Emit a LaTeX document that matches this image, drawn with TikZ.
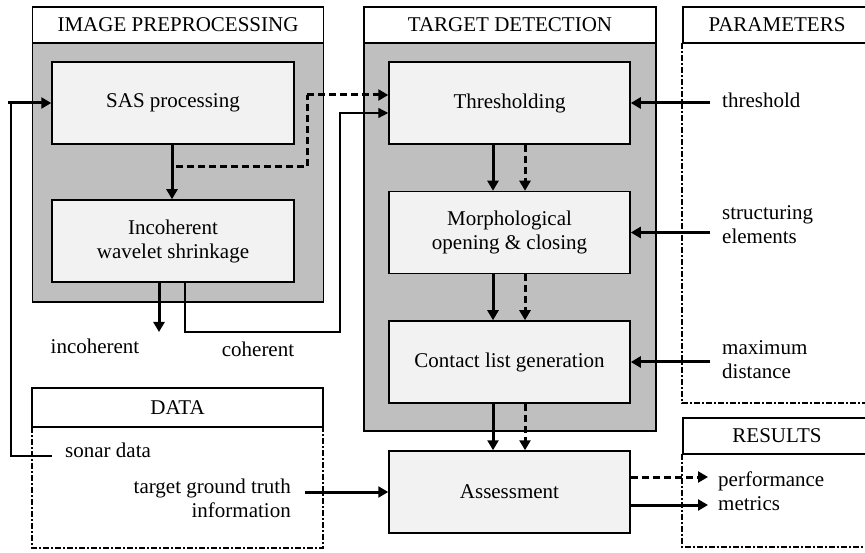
\documentclass[tikz,border=0pt]{standalone}
\usepackage{fontspec}
\setmainfont{Liberation Serif}
\usetikzlibrary{arrows.meta}
\definecolor{groupgray}{HTML}{BFBFBF}
\definecolor{boxgray}{HTML}{F2F2F2}
\newcommand{\dfs}{\fontsize{21}{24}\selectfont}
\begin{document}
\begin{tikzpicture}[x=1pt,y=-1pt,
  grp/.style={draw, line width=1.5pt, fill=groupgray, inner sep=0pt},
  hdr/.style={draw, line width=1.5pt, fill=white, inner sep=0pt, font=\dfs},
  proc/.style={draw, line width=1.5pt, fill=boxgray, minimum width=241pt, minimum height=82pt, inner sep=0pt, align=center, font=\dfs},
  lbl/.style={inner sep=0pt, font=\dfs, align=left},
  thk/.style={line width=3pt, -{Triangle[length=10pt,width=11pt]}},
  dsh/.style={thk, dash pattern=on 7pt off 4pt},
  thinln/.style={line width=1.2pt},
  dd/.style={line width=2.4pt, dash pattern=on 6pt off 2pt on 2pt off 2pt}]
\useasboundingbox (0,0) rectangle (865,553);
\fill[white] (0,0) rectangle (865,553);

% group boxes
\node[grp, minimum width=291pt, minimum height=259pt] (ipbox) at (178,172.5) {};
\node[hdr, minimum width=291pt, minimum height=36pt] (iphdr) at (178,25) {IMAGE PREPROCESSING};
\node[grp, minimum width=292pt, minimum height=388pt] (tdbox) at (510,237) {};
\node[hdr, minimum width=292pt, minimum height=36pt] (tdhdr) at (510,25) {TARGET DETECTION};
\node[hdr, minimum width=188pt, minimum height=36pt] (parhdr) at (777,25) {PARAMETERS};
\node[hdr, minimum width=188pt, minimum height=36pt] (reshdr) at (777,436) {RESULTS};
\node[hdr, minimum width=291pt, minimum height=39pt] (datahdr) at (177.5,407.5) {DATA};

% dash-dot frames
\draw[dd] (682,43) -- (682,403) -- (870,403);
\draw[dd] (682,454) -- (682,547) -- (870,547);
\draw[dd] (32,427) -- (32,548) -- (323,548) -- (323,427);

% process boxes
\node[proc, minimum width=242pt] (sas) at (173,103) {SAS processing};
\node[proc, minimum width=242pt] (iws) at (173,241) {Incoherent\\wavelet shrinkage};
\node[proc] (thr) at (509.5,103) {Thresholding};
\node[proc] (mor) at (509.5,232.5) {Morphological\\opening \& closing};
\node[proc] (con) at (509.5,362) {Contact list generation};
\node[proc] (ass) at (509.5,492) {Assessment};

% labels
\node[lbl] (lthr) at (722,100) [anchor=west] {threshold};
\node[lbl] (lstr) at (722,225) [anchor=west] {structuring\\elements};
\node[lbl] (lmax) at (722,360) [anchor=west] {maximum\\distance};
\node[lbl] (linc) at (95,346) {incoherent};
\node[lbl] (lcoh) at (258,349) {coherent};
\node[lbl] (lson) at (65,450) [anchor=west] {sonar data};
\node[lbl, align=right] (ltgt) at (291,498) [anchor=east] {target ground truth\\information};
\node[lbl] (lperf) at (718,491) [anchor=west] {performance\\metrics};

% coordinates
\coordinate (sonarend) at (52,456);
\coordinate (incend) at (159,332);
\coordinate (tgtstart) at (305,492);
\coordinate (pthr) at (710,103);
\coordinate (pstr) at (710,232.5);
\coordinate (pmax) at (710,362);
\coordinate (rdash) at (708,477);
\coordinate (rsol) at (708,505);

% image preprocessing connectors
\draw[thinln] (sonarend) -- (11,456) -- (11,103);
\draw[thk] (8,103) -- (sas.west);
\draw[thk] (sas.south) ++(-1,0) -- (iws.north -| 172,0);
\draw[thk] (iws.south -| incend) -- (incend);
\draw[thinln, -{Triangle[length=10pt,width=10pt]}] (iws.south -| 185,0) -- (185,332) -- (340,332) -- (340,113) -- (thr.west |- 0,113);
\draw[line width=3pt, dash pattern=on 7pt off 4pt] (176,167) -- (307,167) -- (307,95);
\draw[dsh] (307,95) -- (thr.west |- 0,95);

% target detection chain
\draw[thk] (thr.south -| 493,0) -- (mor.north -| 493,0);
\draw[dsh] (thr.south -| 525,0) -- (mor.north -| 525,0);
\draw[thk] (mor.south -| 493,0) -- (con.north -| 493,0);
\draw[dsh] (mor.south -| 525,0) -- (con.north -| 525,0);
\draw[thk] (con.south -| 493,0) -- (ass.north -| 493,0);
\draw[dsh] (con.south -| 525,0) -- (ass.north -| 525,0);

% parameters
\draw[thk] (pthr) -- (thr.east);
\draw[thk] (pstr) -- (mor.east);
\draw[thk] (pmax) -- (con.east);

% data and results
\draw[thk] (tgtstart) -- (ass.west);
\draw[dsh] (ass.east |- rdash) -- (rdash);
\draw[thk] (ass.east |- rsol) -- (rsol);
\end{tikzpicture}
\end{document}
